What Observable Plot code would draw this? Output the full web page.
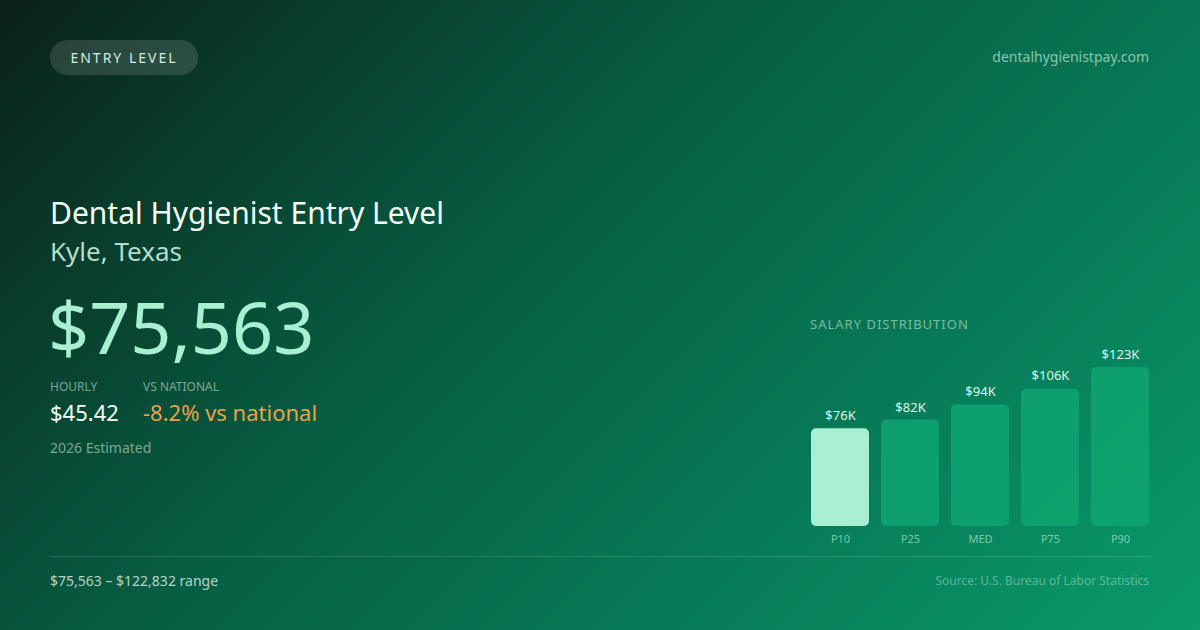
<!DOCTYPE html>
<html><head><meta charset="utf-8">
<script src="https://cdn.jsdelivr.net/npm/d3@7"></script>
<script src="https://cdn.jsdelivr.net/npm/@observablehq/plot@0.6"></script>
<style>
html,body{margin:0;padding:0;}
body{width:1200px;height:630px;overflow:hidden;font-family:"Noto Sans",sans-serif;position:relative;
background:linear-gradient(135deg,#0b2119 0%,#075c41 40%,#077a57 70%,#0a9a6b 100%);}
.abs{position:absolute;white-space:nowrap;line-height:1;}
#pill{left:50px;top:40px;width:148px;height:35px;border-radius:18px;background:rgba(255,255,255,0.13);color:#d6ece2;font-size:14px;letter-spacing:2px;line-height:35px;text-align:center;}
#site{right:51px;top:50px;font-size:14px;color:rgba(200,235,220,0.7);}
#title{left:50px;top:198px;font-size:30px;color:#f2fbf7;}
#sub{left:50px;top:238px;font-size:26px;color:#b5dccb;}
#big{left:48px;top:290px;font-size:72px;color:#a8f0d1;font-weight:400;}
.lab{font-size:12px;color:rgba(200,230,215,0.6);top:381px;}
#hr{left:50px;top:401px;font-size:22px;color:#f2fbf7;}
#vs{left:143px;top:401px;font-size:22px;color:#e8a14c;}
#est{left:50px;top:441px;font-size:14px;color:rgba(200,230,215,0.6);}
#sd{left:810px;top:318px;font-size:13px;letter-spacing:1px;color:rgba(200,235,220,0.6);}
#line{left:50px;top:556px;width:1100px;height:1px;background:rgba(255,255,255,0.13);}
#range{left:50px;top:574px;font-size:14px;color:rgba(225,245,235,0.8);}
#src{right:51px;top:575px;font-size:12px;color:rgba(200,235,220,0.45);}
#chart{left:810px;top:340px;}
</style></head><body>
<div class="abs" id="pill">ENTRY LEVEL</div>
<div class="abs" id="site">dentalhygienistpay.com</div>
<div class="abs" id="title">Dental Hygienist Entry Level</div>
<div class="abs" id="sub">Kyle, Texas</div>
<div class="abs" id="big">$75,563</div>
<div class="abs lab" style="left:50px">HOURLY</div>
<div class="abs lab" style="left:143px">VS NATIONAL</div>
<div class="abs" id="hr">$45.42</div>
<div class="abs" id="vs">-8.2% vs national</div>
<div class="abs" id="est">2026 Estimated</div>
<div class="abs" id="sd">SALARY DISTRIBUTION</div>
<div class="abs" id="chart"></div>
<div class="abs" id="line"></div>
<div class="abs" id="range">$75,563 – $122,832 range</div>
<div class="abs" id="src">Source: U.S. Bureau of Labor Statistics</div>
<script>
const categories = ["P10","P25","MED","P75","P90"];
const salaries = [75563, 82000, 94000, 106000, 122832];
const valueLabels = ["$76K","$82K","$94K","$106K","$123K"];
const highlight = ["P10"];

const data = categories.map((c,i)=>({cat:c, v:salaries[i], label:valueLabels[i], hi: highlight.includes(c)}));

const plot = Plot.plot({
  width: 340, height: 215,
  marginTop: 27, marginBottom: 29, marginLeft: 0, marginRight: 0,
  style: {background:"transparent", fontFamily:"Noto Sans, sans-serif", overflow:"visible"},
  x: {domain: categories, paddingInner: 0.17, paddingOuter: 0, axis: null},
  y: {domain: [0, d3.max(salaries)], axis: null},
  marks: [
    Plot.barY(data, {x:"cat", y:"v", rx:5, fill: d => d.hi ? "#a9f0d2" : "#0ea571", fillOpacity: d => d.hi ? 1 : 0.85}),
    Plot.text(data, {x:"cat", y:"v", text:"label", dy:-13, fill:"#dcf5ea", fontSize:13}),
    Plot.text(data, {x:"cat", y: 0, text:"cat", dy:13, fill:"rgba(200,235,220,0.65)", fontSize:11})
  ]
});
document.getElementById("chart").appendChild(plot);
</script>
</body></html>
